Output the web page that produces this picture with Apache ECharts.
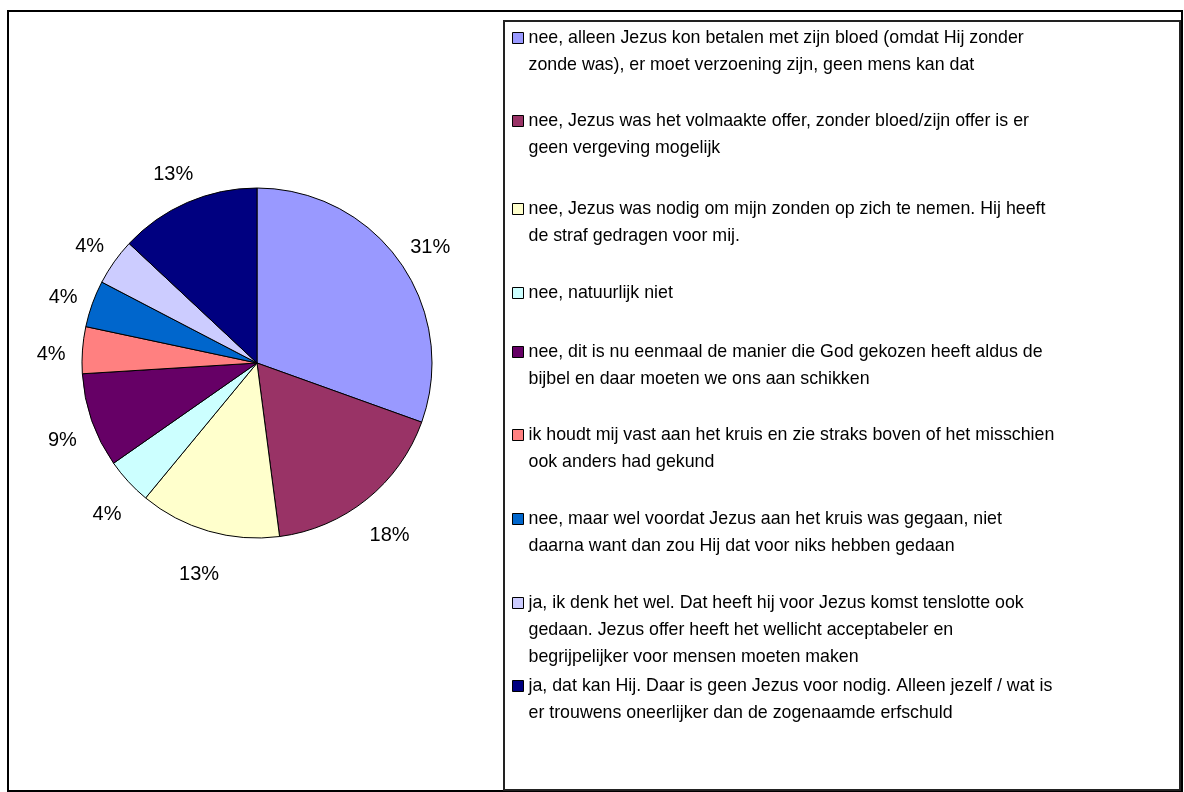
<!DOCTYPE html>
<html>
<head>
<meta charset="utf-8">
<script src="https://cdn.jsdelivr.net/npm/echarts@6/dist/echarts.min.js"></script>
<style>
  html, body { margin: 0; padding: 0; background: #fff; }
  #chart { width: 1184px; height: 792px; }
</style>
</head>
<body>
<div id="chart"></div>
<script>
// antwoorden (volgorde = legenda en taartpunten met de klok mee vanaf 12 uur)
const answers = [
  'nee, alleen Jezus kon betalen met zijn bloed (omdat Hij zonder\nzonde was), er moet verzoening zijn, geen mens kan dat',
  'nee, Jezus was het volmaakte offer, zonder bloed/zijn offer is er\ngeen vergeving mogelijk',
  'nee, Jezus was nodig om mijn zonden op zich te nemen. Hij heeft\nde straf gedragen voor mij.',
  'nee, natuurlijk niet',
  'nee, dit is nu eenmaal de manier die God gekozen heeft aldus de\nbijbel en daar moeten we ons aan schikken',
  'ik houdt mij vast aan het kruis en zie straks boven of het misschien\nook anders had gekund',
  'nee, maar wel voordat Jezus aan het kruis was gegaan, niet\ndaarna want dan zou Hij dat voor niks hebben gedaan',
  'ja, ik denk het wel. Dat heeft hij voor Jezus komst tenslotte ook\ngedaan. Jezus offer heeft het wellicht acceptabeler en\nbegrijpelijker voor mensen moeten maken',
  'ja, dat kan Hij. Daar is geen Jezus voor nodig. Alleen jezelf / wat is\ner trouwens oneerlijker dan de zogenaamde erfschuld'
];
// percentage per antwoord (label toont afgerond getal); hoeken in de taart volgen deze waarden
const percents = [31.1, 17.8, 13.3, 4.4, 8.9, 4.4, 4.4, 4.4, 13.3];
const colors = ['#9999FF', '#993366', '#FFFFCC', '#CCFFFF', '#660066', '#FF8080', '#0066CC', '#CCCCFF', '#000080'];

// legenda: y van het blokje per item (Excel-layout, niet gelijkmatig)
const legendY = [38, 121, 209, 293, 352, 435, 519, 603, 686];
const lineH = 27;
const font = '"Liberation Sans", Arial, sans-serif';

const legends = answers.map((name, i) => {
  const n = name.split('\n').length;
  return {
    data: [name],
    left: 512,
    top: legendY[i] - (2 * n - 1) * lineH / 2,
    padding: 0,
    orient: 'vertical',
    icon: 'rect',
    itemWidth: 11,
    itemHeight: 11,
    selectedMode: false,
    itemStyle: { borderColor: '#000', borderWidth: 1 },
    // lege regels vooraan zodat het blokje bij de eerste regel staat
    formatter: nm => '\n'.repeat(n - 1) + nm,
    textStyle: { fontSize: 17.8, lineHeight: lineH, color: '#000', fontFamily: font }
  };
});

const chart = echarts.init(document.getElementById('chart'));
chart.setOption({
  animation: false,
  backgroundColor: '#fff',
  graphic: [
    { type: 'rect', shape: { x: 8, y: 11, width: 1174, height: 780 }, style: { fill: 'none', stroke: '#000', lineWidth: 2 }, silent: true },
    { type: 'rect', shape: { x: 504, y: 21, width: 676, height: 769 }, style: { fill: 'none', stroke: '#222', lineWidth: 2 }, silent: true }
  ],
  legend: legends,
  series: [{
    type: 'pie',
    center: [257, 363],
    radius: 175,
    startAngle: 90,
    clockwise: true,
    avoidLabelOverlap: false,
    emphasis: { disabled: true },
    data: answers.map((name, i) => ({ name, value: percents[i], itemStyle: { color: colors[i] } })),
    itemStyle: { borderColor: '#000', borderWidth: 1 },
    label: {
      show: true,
      position: 'outside',
      // lege eerste regel: label iets lager, zoals in Excel
      formatter: p => '\n' + Math.round(p.value) + '%',
      fontSize: 20,
      lineHeight: 14,
      color: '#000',
      fontFamily: font,
      distanceToLabelLine: -21
    },
    labelLine: { show: false, length: 38, length2: 0 }
  }]
});
</script>
</body>
</html>
